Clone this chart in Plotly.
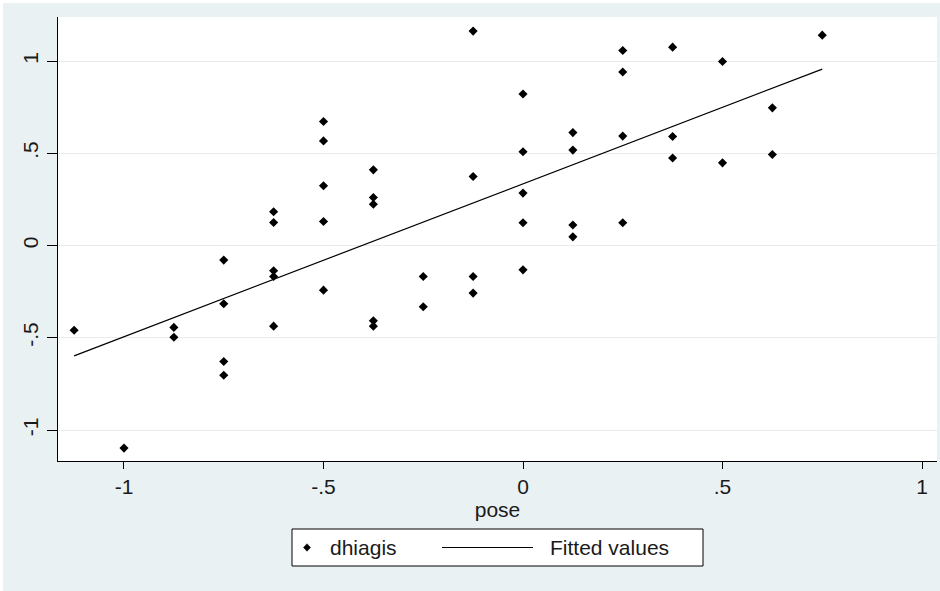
import plotly.graph_objects as go

# ---- data ----
pose = [-1.125,
        -1.0,
        -0.875, -0.875,
        -0.75, -0.75, -0.75, -0.75,
        -0.625, -0.625, -0.625, -0.625, -0.625,
        -0.5, -0.5, -0.5, -0.5, -0.5,
        -0.375, -0.375, -0.375, -0.375, -0.375,
        -0.25, -0.25,
        -0.125, -0.125, -0.125, -0.125,
        0.0, 0.0, 0.0, 0.0, 0.0,
        0.125, 0.125, 0.125, 0.125,
        0.25, 0.25, 0.25, 0.25,
        0.375, 0.375, 0.375,
        0.5, 0.5,
        0.625, 0.625,
        0.75]
dhiagis = [-0.459,
           -1.098,
           -0.444, -0.497,
           -0.079, -0.316, -0.629, -0.703,
           0.183, 0.125, -0.137, -0.168, -0.437,
           0.672, 0.567, 0.324, 0.130, -0.242,
           0.410, 0.260, 0.224, -0.408, -0.437,
           -0.168, -0.332,
           1.162, 0.374, -0.168, -0.258,
           0.821, 0.508, 0.284, 0.123, -0.132,
           0.612, 0.517, 0.111, 0.047,
           1.057, 0.940, 0.593, 0.123,
           1.075, 0.591, 0.474,
           0.997, 0.448,
           0.746, 0.493,
           1.140]
fit_x = [-1.125, 0.75]
fit_y = [-0.598, 0.956]

tick_vals = [-1, -0.5, 0, 0.5, 1]
tick_text = ["-1", "-.5", "0", ".5", "1"]
series_names = ["dhiagis", "Fitted values"]

# ---- layout geometry (pixels) ----
W, H = 940, 591
L, R, T, B = 58, 3, 17, 130
PW, PH = W - L - R, H - T - B
FONT = "Liberation Sans, Arial, sans-serif"
BG = "#eaf1f3"
TXT = "#1a1a1a"


def px(x):
    return (x - L) / PW


def py(y):
    return (H - B - y) / PH


fig = go.Figure()
fig.add_trace(go.Scatter(
    x=pose, y=dhiagis, mode="markers", name=series_names[0],
    marker=dict(symbol="diamond", size=7, color="black"),
    showlegend=False))
fig.add_trace(go.Scatter(
    x=fit_x, y=fit_y, mode="lines", name=series_names[1],
    line=dict(color="black", width=1.2),
    showlegend=False))

# ---- manual legend (Stata style) ----
lx0, lx1, ly0, ly1 = 292, 703, 529, 566
lyc = (ly0 + ly1) / 2
shapes = [
    dict(type="rect", xref="paper", yref="paper",
         x0=px(lx0), x1=px(lx1), y0=py(ly1), y1=py(ly0),
         fillcolor="white", line=dict(color="black", width=1)),
    dict(type="path", xref="paper", yref="paper",
         path="M {a},{b} L {c},{d} L {e},{b} L {c},{f} Z".format(
             a=px(303.5), b=py(lyc), c=px(307), d=py(lyc - 3.8),
             e=px(310.5), f=py(lyc + 3.8)),
         fillcolor="black", line=dict(color="black", width=0.5)),
    dict(type="line", xref="paper", yref="paper",
         x0=px(442), x1=px(533), y0=py(lyc), y1=py(lyc),
         line=dict(color="black", width=1.2)),
    # thin white border seen at top and left edges of the image
    dict(type="rect", xref="paper", yref="paper", layer="below",
         x0=px(0), x1=px(W), y0=py(3), y1=py(0),
         fillcolor="white", line=dict(width=0)),
    dict(type="rect", xref="paper", yref="paper", layer="below",
         x0=px(0), x1=px(3), y0=py(H), y1=py(0),
         fillcolor="white", line=dict(width=0)),
]
annotations = [
    dict(xref="paper", yref="paper", x=px(328), y=py(lyc),
         xanchor="left", yanchor="middle", showarrow=False,
         text=series_names[0], font=dict(family=FONT, size=21, color=TXT)),
    dict(xref="paper", yref="paper", x=px(548), y=py(lyc),
         xanchor="left", yanchor="middle", showarrow=False,
         text=series_names[1], font=dict(family=FONT, size=21, color=TXT)),
]

fig.update_layout(
    width=W, height=H,
    margin=dict(l=L, r=R, t=T, b=B, pad=0),
    paper_bgcolor=BG, plot_bgcolor="white",
    font=dict(family=FONT, size=21, color=TXT),
    showlegend=False,
    shapes=shapes, annotations=annotations,
    xaxis=dict(
        range=[-1.1654, 1.0376], tickvals=tick_vals, ticktext=tick_text,
        showline=True, linecolor="black", linewidth=1.3, mirror=False,
        ticks="outside", ticklen=7, tickwidth=1.3, tickcolor="black",
        showgrid=False, zeroline=False,
        title=dict(text="pose", standoff=0, font=dict(size=21)),
        tickfont=dict(size=21),
    ),
    yaxis=dict(
        range=[-1.168, 1.2385], tickvals=tick_vals, ticktext=tick_text,
        tickangle=-90,
        showline=True, linecolor="black", linewidth=1.3, mirror=False,
        ticks="outside", ticklen=10, tickwidth=1.3, tickcolor="black",
        showgrid=True, gridcolor="#ebebeb", gridwidth=1,
        zeroline=False, tickfont=dict(size=21),
    ),
)

fig.write_html(
    "out.html",
    config={"displayModeBar": False},
    post_script="document.body.style.margin='0px';"
                "document.body.style.overflow='hidden';",
)
